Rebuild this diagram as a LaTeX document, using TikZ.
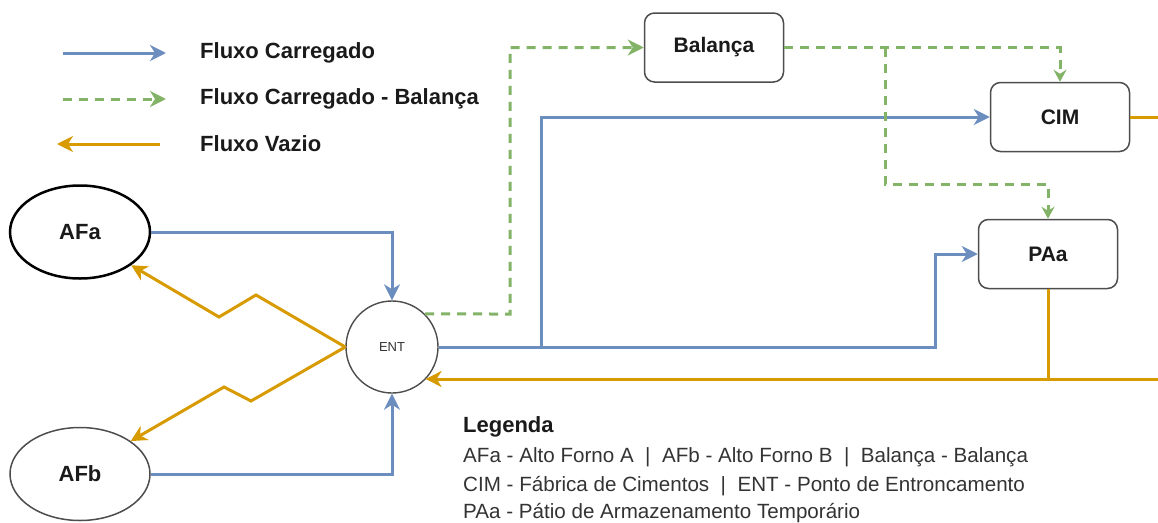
\documentclass[tikz,border=0pt]{standalone}
\usepackage{fontspec}
\setmainfont{Liberation Sans}
\usetikzlibrary{arrows.meta,shapes.geometric}
\definecolor{flowblue}{HTML}{6C8EBF}
\definecolor{flowgreen}{HTML}{82B366}
\definecolor{floworange}{HTML}{D79B00}
\definecolor{boxline}{HTML}{4D4D4D}
\definecolor{txt}{HTML}{1A1A1A}
\definecolor{legtxt}{HTML}{333333}

\begin{document}
\begin{tikzpicture}[x=1pt,y=-1pt,
  bigtip/.style={-{Stealth[length=16pt,width=16pt,inset=5pt]}},
  smalltip/.style={-{Stealth[length=12pt,width=13pt,inset=4pt]}},
  loaded/.style={draw=flowblue,line width=3pt,line join=miter},
  weighed/.style={draw=flowgreen,line width=3pt,dash pattern=on 9pt off 7pt},
  empty/.style={draw=floworange,line width=3pt,line join=miter},
  procbox/.style={draw=boxline,line width=1.5pt,rounded corners=10pt,fill=white,
    minimum width=139pt,minimum height=69pt,inner sep=0pt,
    font=\bfseries\fontsize{21}{24}\selectfont,text=txt},
  furnace/.style={ellipse,minimum width=140pt,minimum height=93pt,inner sep=0pt,
    fill=white,font=\bfseries\fontsize{22}{26}\selectfont,text=txt},
  junction/.style={circle,draw=boxline,line width=1.4pt,minimum size=92pt,inner sep=0pt,
    fill=white,font=\fontsize{13}{15}\selectfont,text=legtxt},
  keytext/.style={anchor=west,font=\bfseries\fontsize{22}{26}\selectfont,text=txt,inner sep=0pt},
  legline/.style={anchor=base west,font=\fontsize{20.6}{25}\selectfont,text=legtxt,inner sep=0pt}
]
\useasboundingbox (0,0) rectangle (1158,522);

% key of flow types
\coordinate (k1a) at (63,53);  \coordinate (k1b) at (166,53);
\coordinate (k2a) at (63,99);  \coordinate (k2b) at (166,99);
\coordinate (k3a) at (160,144); \coordinate (k3b) at (57,144);
\draw[loaded,bigtip] (k1a) -- (k1b);
\draw[weighed,bigtip] (k2a) -- (k2b);
\draw[empty,bigtip] (k3a) -- (k3b);
\node[keytext] (t1) at (200,53) {Fluxo Carregado};
\node[keytext] (t2) at (200,99) {Fluxo Carregado - Balança};
\node[keytext] (t3) at (200,144) {Fluxo Vazio};

% plant nodes
\node[furnace,draw=black,line width=2.5pt] (afa) at (80,232) {AFa};
\node[furnace,draw=boxline,line width=1.5pt] (afb) at (80,474) {AFb};
\node[junction] (ent) at (392,347) {ENT};
\node[procbox] (bal) at (714,47.5) {Balança};
\node[procbox] (cim) at (1060,117) {CIM};
\node[procbox] (paa) at (1048,254) {PAa};

% bend and junction points
\coordinate (gup) at (510,314);
\coordinate (gsplit) at (885,47.5);
\coordinate (gbend) at (1048,184);
\coordinate (bsplit) at (541,347);
\coordinate (bbend) at (935,347);
\coordinate (redge) at (1158,379);
\coordinate (za1) at (256,295); \coordinate (za2) at (219,317);
\coordinate (zb1) at (251,401); \coordinate (zb2) at (224,387);

% loaded flows
\draw[loaded,bigtip] (afa.east) -| (ent.north);
\draw[loaded,bigtip] (afb.east) -| (ent.south);
\draw[loaded,bigtip] (ent.east) -- (bbend) |- (paa.west);
\draw[loaded,bigtip] (bsplit) |- (cim.west);

% loaded flows through the scale
\draw[weighed,bigtip] (ent.45) -- (gup) |- (bal.west);
\draw[weighed,smalltip] (bal.east) -| (cim.north);
\draw[weighed,smalltip] (gsplit) |- (gbend) -- (paa.north);

% empty return flows
\draw[empty] (cim.east) -- (cim.east -| redge);
\draw[empty] (paa.south) -- (paa.south |- redge);
\draw[empty,bigtip] (redge) -- (redge -| ent.-44);
\draw[empty,bigtip] (ent.west) -- (za1) -- (za2) -- (afa.-33);
\draw[empty,bigtip] (ent.west) -- (zb1) -- (zb2) -- (afb.33);

% abbreviations
\node[legline,font=\bfseries\fontsize{22}{26}\selectfont,text=txt] (lg0) at (463,432) {Legenda};
\node[legline] (lg1) at (463,462) {AFa - Alto Forno A~~|~~AFb - Alto Forno B~~|~~Balança - Balança};
\node[legline] (lg2) at (463,491) {CIM - Fábrica de Cimentos~~|~~ENT - Ponto de Entroncamento};
\node[legline] (lg3) at (463,518) {PAa - Pátio de Armazenamento Temporário};
\end{tikzpicture}
\end{document}
